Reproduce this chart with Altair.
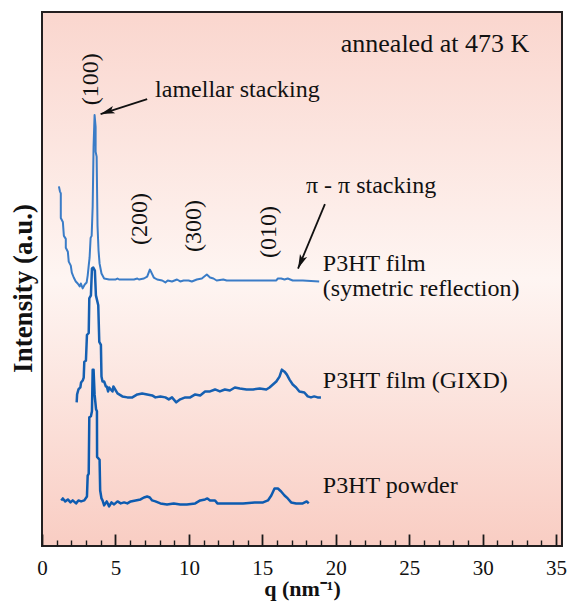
import altair as alt
import pandas as pd

# ---------------- data ----------------
# P3HT film (symmetric reflection)
sym_q = [1.15, 1.22, 1.28, 1.28, 1.42, 1.49, 1.62, 1.62, 1.76, 1.82,
         1.96, 2.03, 2.16, 2.30, 2.43, 2.57, 2.64, 2.77, 2.91, 3.04,
         3.11, 3.18, 3.24, 3.31, 3.38, 3.45, 3.51, 3.58, 3.65, 3.65,
         3.72, 3.78, 3.85, 3.92, 4.05,
         4.23, 4.57, 5.02, 5.14, 5.25, 5.59, 6.26, 6.49, 6.60, 6.94,
         7.16, 7.34, 7.45, 7.61, 7.84, 8.18, 8.40, 8.56, 8.85, 9.19,
         9.41, 9.64, 9.98, 10.20, 10.54, 10.88, 11.22, 11.44, 11.67, 11.89,
         12.34, 12.57, 14.59, 15.95, 16.06, 16.28, 16.51, 16.73, 17.07, 17.75,
         18.87]
sym_I = [363, 358, 356, 331, 327, 313, 310, 301, 297, 287,
         283, 276, 271, 267, 265, 262, 265, 260, 264, 266,
         273, 283, 291, 311, 313, 343, 403, 435, 423, 398,
         393, 323, 298, 285, 275,
         270, 269, 269, 270, 269, 269, 269, 270, 269, 270,
         272, 279, 276, 271, 269, 268, 266, 268, 267, 269,
         267, 268, 268, 267, 269, 270, 274, 271, 270, 268,
         269, 268, 268, 268, 270, 270, 269, 270, 268, 268,
         267]

# P3HT film (GIXD)
gixd_q = [2.36, 2.39, 2.48, 2.61, 2.66, 2.77, 2.84, 2.88, 2.99, 3.06,
          3.18, 3.22, 3.33, 3.40, 3.49, 3.60, 3.67, 3.83, 3.90, 4.01,
          4.05, 4.12, 4.23, 4.35, 4.41, 4.50, 4.57, 4.68, 4.80, 4.86,
          5.14, 5.47, 5.81, 6.15, 6.49, 6.82, 7.16, 7.50, 7.72, 8.06,
          8.40, 8.63, 8.85, 9.14, 9.41, 9.75, 10.09, 10.43, 10.77, 11.10,
          11.44, 11.78, 12.11, 12.45, 12.79, 13.13, 13.47, 13.92, 14.37, 14.82,
          15.27, 15.49, 15.72, 15.95, 16.17, 16.33, 16.51, 16.67, 16.85, 17.07,
          17.30, 17.52, 17.86, 18.09, 18.31, 18.53, 18.76, 18.99]
gixd_I = [145, 153, 158, 160, 165, 167, 170, 186, 187, 213,
          215, 250, 253, 280, 281, 278, 253, 243, 206, 203,
          171, 166, 166, 161, 161, 156, 160, 158, 156, 161,
          154, 151, 150, 150, 153, 154, 153, 152, 150, 151,
          150, 148, 150, 145, 148, 150, 150, 153, 152, 156,
          156, 158, 156, 158, 157, 160, 159, 158, 158, 159,
          158, 160, 163, 166, 171, 178, 176, 173, 168, 163,
          160, 156, 155, 151, 150, 151, 150, 150]

# P3HT powder
pow_q = [1.31, 1.42, 1.58, 1.76, 1.94, 2.09, 2.32, 2.48, 2.66, 2.88,
         3.06, 3.11, 3.18, 3.22, 3.33, 3.40, 3.45, 3.51, 3.58, 3.68,
         3.74, 3.75, 3.92, 3.96, 4.05, 4.12, 4.23, 4.41, 4.57, 4.73,
         4.91, 5.14, 5.36, 5.59, 5.81, 6.04, 6.37, 6.71, 6.94, 7.16,
         7.34, 7.50, 7.72, 8.06, 8.51, 8.97, 9.41, 9.86, 10.43, 10.77,
         11.10, 11.26, 11.44, 11.78, 11.94, 12.79, 13.69, 14.48, 15.05, 15.38,
         15.61, 15.83, 16.06, 16.28, 16.51, 16.73, 16.96, 17.30, 17.75, 18.02,
         18.16]
pow_I = [46, 48, 45, 47, 44, 46, 43, 46, 45, 46,
         50, 71, 73, 130, 131, 136, 178, 178, 153, 138,
         136, 90, 87, 56, 48, 46, 41, 45, 40, 44,
         42, 45, 43, 44, 43, 45, 46, 47, 49, 50,
         49, 46, 45, 43, 42, 43, 42, 42, 43, 46,
         47, 48, 46, 46, 43, 43, 43, 44, 44, 46,
         51, 58, 58, 55, 51, 48, 44, 43, 43, 45,
         43]

# axis ticks (inward)
major_ticks = [0, 5, 10, 15, 20, 25, 30, 35]
minor_ticks = [t for t in range(0, 36) if t % 5 != 0]

# annotations (horizontal)
ann_text = ["annealed at 473 K", "lamellar stacking", "\u03c0 - \u03c0 stacking",
            "P3HT film", "(symetric reflection)", "P3HT film (GIXD)", "P3HT powder"]
ann_q = [20.34, 7.70, 17.97, 19.12, 19.12, 19.12, 19.12]
ann_I = [507, 460, 363, 285, 259, 167, 61]
ann_size = [26, 24, 24, 24, 24, 24, 24]

# rotated Miller-index labels
hkl_text = ["(100)", "(200)", "(300)", "(010)"]
hkl_q = [3.35, 6.69, 10.34, 15.47]
hkl_I = [471, 330, 323, 317]

# arrows: start -> tip
arr_q = [7.16, 19.26]
arr_I = [451, 345]
arr_q2 = [3.99, 17.43]
arr_I2 = [436, 280]
arr_angle = [252, 203]

# ---------------- chart ----------------
W, H = 520, 534
FONT = "Liberation Serif"
xs = alt.Scale(domain=[0, 35.4], nice=False, zero=False)
ys = alt.Scale(domain=[0, 539], nice=False, zero=False)

# main x axis: moved 12 px inside the plot so its 12 px ticks point up from the frame
x_main = alt.X("q:Q", scale=xs, axis=alt.Axis(
    orient="bottom", offset=-12, zindex=1,
    title="q (nm\u207b\u00b9)", values=major_ticks, format="d",
    ticks=True, tickSize=12, tickWidth=1.8, tickColor="#1a1a1a",
    domain=False, grid=False, labelPadding=11, labelFontSize=21, labelFont=FONT,
    labelFlush=False, labelOverlap=False,
    labelColor="#111", titleFont=FONT, titleFontSize=22, titleFontWeight="bold",
    titleColor="#111", titlePadding=0))
# second axis only for the short minor ticks
x_minor = alt.X("q:Q", scale=xs, axis=alt.Axis(
    orient="bottom", offset=-6, zindex=1, values=minor_ticks,
    ticks=True, tickSize=6, tickWidth=1.4, tickColor="#1a1a1a",
    labels=False, domain=False, grid=False, title=None))
x_plain = alt.X("q:Q", scale=xs, axis=None)

y_enc = alt.Y("I:Q", scale=ys, axis=alt.Axis(
    title="Intensity (a.u.)", labels=False, ticks=False, domain=False, grid=False,
    titleFont=FONT, titleFontSize=27, titleFontWeight="bold", titleColor="#111",
    titlePadding=5, titleY=276))
y_plain = alt.Y("I:Q", scale=ys)

one = pd.DataFrame({"a": [0]})
bg = alt.Chart(one).mark_rect(
    fill=alt.Gradient(
        gradient="linear",
        stops=[alt.GradientStop(color="#fad6ce", offset=0),
               alt.GradientStop(color="#fef5f2", offset=0.5),
               alt.GradientStop(color="#f9cdc3", offset=1)],
        x1=0, x2=0, y1=0, y2=1)
).encode(x=alt.value(0), x2=alt.value(W), y=alt.value(0), y2=alt.value(H))


def trace(q, I, color, sw, xenc):
    df = pd.DataFrame({"q": q, "I": I, "i": list(range(len(q)))})
    return alt.Chart(df).mark_line(color=color, strokeWidth=sw, strokeJoin="round").encode(
        x=xenc, y=y_enc, order="i:Q")


l_sym = trace(sym_q, sym_I, "#3a7cc7", 2.0, x_main)
l_gixd = trace(gixd_q, gixd_I, "#1660b2", 2.5, x_plain)
l_pow = trace(pow_q, pow_I, "#0d5bb0", 2.5, x_plain)

minor_layer = alt.Chart(pd.DataFrame({"q": minor_ticks})).mark_point(opacity=0, size=1).encode(
    x=x_minor, y=alt.value(H))

ann_df = pd.DataFrame({"q": ann_q, "I": ann_I, "t": ann_text, "s": ann_size})
ann = alt.Chart(ann_df).mark_text(align="left", baseline="middle", font=FONT, color="#111").encode(
    x=x_plain, y=y_plain, text="t:N", size=alt.Size("s:Q", scale=None))

hkl_df = pd.DataFrame({"q": hkl_q, "I": hkl_I, "t": hkl_text})
hkl = alt.Chart(hkl_df).mark_text(align="center", baseline="middle", font=FONT, fontSize=24,
                                  angle=270, color="#111").encode(
    x=x_plain, y=y_plain, text="t:N")

arr_df = pd.DataFrame({"q": arr_q, "I": arr_I, "q2": arr_q2, "I2": arr_I2, "ang": arr_angle})
arr_line = alt.Chart(arr_df).mark_rule(color="#111", strokeWidth=1.8).encode(
    x=x_plain, y=y_plain, x2="q2:Q", y2="I2:Q")
arr_head = alt.Chart(arr_df).mark_point(
    shape="M0,0L-0.55,2L0,1.55L0.55,2Z", filled=True, color="#111", opacity=1, size=200,
    strokeWidth=0
).encode(x=alt.X("q2:Q", scale=xs, axis=None), y=alt.Y("I2:Q", scale=ys),
         angle=alt.Angle("ang:Q", scale=None))

frame = alt.Chart(one).mark_rect(filled=False, stroke="#231f20", strokeWidth=2).encode(
    x=alt.value(0), x2=alt.value(W), y=alt.value(0), y2=alt.value(H))

chart = alt.layer(bg, l_sym, l_gixd, l_pow, minor_layer, ann, hkl, arr_line, arr_head, frame).resolve_axis(
    x="independent"
).properties(
    width=W, height=H,
    autosize=alt.AutoSizeParams(type="none"),
    padding={"left": 34, "top": 4, "right": 5, "bottom": 56},
    background="white",
).configure_view(stroke="transparent")

chart.save("out.html", embed_options={"renderer": "svg", "actions": False})
